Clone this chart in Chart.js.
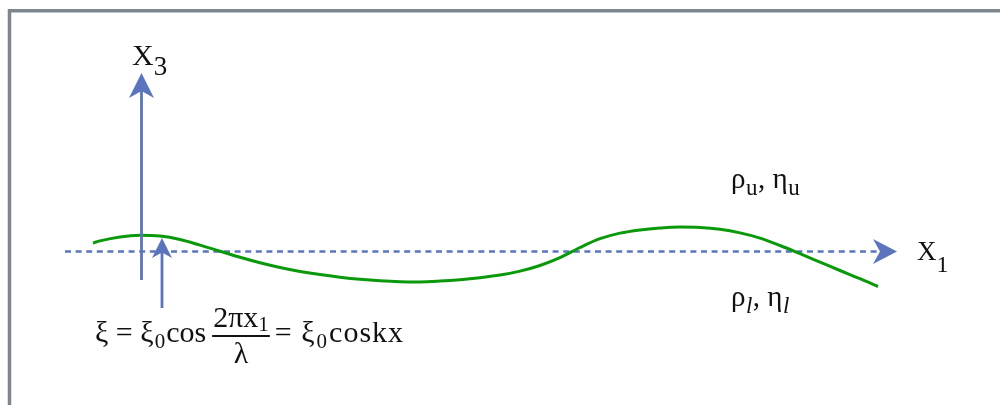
<!DOCTYPE html>
<html>
<head>
<meta charset="utf-8">
<script src="https://cdn.jsdelivr.net/npm/chart.js@4.4.1/dist/chart.umd.min.js"></script>
<style>
  html, body { margin: 0; padding: 0; background: #ffffff; overflow: hidden; }
  #wrap { position: relative; width: 1000px; height: 405px; }
</style>
</head>
<body>
<div id="wrap"><canvas id="sketch" width="1000" height="405"></canvas></div>
<script>
// Interface profile: position along x1 and vertical displacement ξ of the interface.
const x1Positions = [93, 100, 120, 140, 160, 180, 200, 220, 240, 260, 280, 300, 320, 340, 360, 380,
                     400, 420, 440, 460, 480, 500, 520, 540, 560, 580, 600, 620, 640, 660, 680, 700,
                     720, 740, 760, 780, 800, 820, 840, 860, 878];
const xiValues = [8.5, 10.6, 14.6, 16.2, 15.4, 12.0, 6.4, 0.3, -5.8, -11.3, -16.0, -19.9, -23.1, -25.7, -27.8, -29.3,
                  -30.2, -30.4, -29.6, -28.2, -26.2, -23.6, -19.6, -14.0, -6.2, 4.0, 12.8, 18.4, 21.6, 23.5, 24.5, 24.1,
                  22.2, 18.6, 13.4, 6.0, -2.2, -10.6, -19.0, -27.2, -35.0];

// Coordinate axes and the amplitude marker, in the same x1 / ξ units.
const x1AxisSpan = [65, 897];          // horizontal axis at ξ = 0
const x3AxisX1 = 141.5;
const x3AxisSpan = [-28.5, 178.5];     // vertical axis
const amplitudeX1 = 162;
const amplitudeSpan = [-56.5, 13.5];   // arrow up to the crest

// Text runs: [text, role]; role 'm' = main, 's' = subscript, 'si' = italic subscript.
const labelX3 = [['X', 'm'], ['3', 's']];
const labelX1 = [['X', 'm'], ['1', 's']];
const labelUpper = [['ρ', 'm'], ['u', 's'], [', η', 'm'], ['u', 's']];
const labelLower = [['ρ', 'm'], ['l', 'si'], [', η', 'm'], ['l', 'si']];
const eqLead = [['ξ = ξ', 'm'], ['0', 's'], ['cos', 'm']];
const eqNumerator = [['2πx', 'm'], ['1', 's']];
const eqDenominator = [['λ', 'm']];
const eqTail = [['= ξ', 'm'], ['0', 's'], ['coskx', 'm']];

const AXIS_BLUE = 'rgb(90,117,189)';
const CURVE_GREEN = 'rgb(10,153,10)';
const FRAME_GREY = 'rgb(126,134,143)';
const SERIF = '"Liberation Serif", "DejaVu Serif", serif';

function fontFor(role, st) {
  const size = role === 'm' ? st.size : st.sub;
  return (role === 'si' ? 'italic ' : '') + size + 'px ' + SERIF;
}

function runsWidth(ctx, runs, st) {
  let w = 0;
  runs.forEach(([t, role]) => { ctx.font = fontFor(role, st); w += ctx.measureText(t).width; });
  return w;
}

function drawRuns(ctx, runs, x, y, st) {
  runs.forEach(([t, role]) => {
    ctx.font = fontFor(role, st);
    ctx.fillText(t, x, role === 'm' ? y : y + st.drop);
    x += ctx.measureText(t).width + (st.gap || 0);
  });
  return x;
}

function arrowHead(ctx, tipX, tipY, dirX, dirY, len, half, notch) {
  const nx = -dirY, ny = dirX;
  const bx = tipX - dirX * len, by = tipY - dirY * len;
  ctx.beginPath();
  ctx.moveTo(tipX, tipY);
  ctx.lineTo(bx + nx * half, by + ny * half);
  ctx.lineTo(tipX - dirX * (len - notch), tipY - dirY * (len - notch));
  ctx.lineTo(bx - nx * half, by - ny * half);
  ctx.closePath();
  ctx.fill();
}

const sketchOverlay = {
  id: 'sketchOverlay',
  beforeDatasetsDraw(chart) {
    const { ctx, scales: { x, y } } = chart;
    ctx.save();
    // frame
    ctx.strokeStyle = FRAME_GREY;
    ctx.lineWidth = 3.5;
    ctx.beginPath();
    ctx.moveTo(chart.width + 5, 10.8);
    ctx.lineTo(9.5, 10.8);
    ctx.lineTo(9.5, chart.height + 5);
    ctx.stroke();

    // dashed x1 axis
    const y0 = y.getPixelForValue(0);
    const xa = x.getPixelForValue(x1AxisSpan[0]);
    const xb = x.getPixelForValue(x1AxisSpan[1]);
    ctx.strokeStyle = AXIS_BLUE;
    ctx.fillStyle = AXIS_BLUE;
    ctx.lineWidth = 2.6;
    ctx.setLineDash([6, 4.6]);
    ctx.beginPath();
    ctx.moveTo(xa, y0);
    ctx.lineTo(xb - 20, y0);
    ctx.stroke();
    ctx.setLineDash([]);
    arrowHead(ctx, xb, y0, 1, 0, 24, 12.5, 7);
    ctx.restore();
  },
  afterDatasetsDraw(chart) {
    const { ctx, scales: { x, y } } = chart;
    ctx.save();
    ctx.strokeStyle = AXIS_BLUE;
    ctx.fillStyle = AXIS_BLUE;
    ctx.lineWidth = 2.8;

    // x3 axis
    const ax = x.getPixelForValue(x3AxisX1);
    const aBot = y.getPixelForValue(x3AxisSpan[0]);
    const aTop = y.getPixelForValue(x3AxisSpan[1]);
    ctx.beginPath();
    ctx.moveTo(ax, aBot);
    ctx.lineTo(ax, aTop + 18);
    ctx.stroke();
    arrowHead(ctx, ax, aTop, 0, -1, 25, 12.5, 7);

    // amplitude arrow
    const mx = x.getPixelForValue(amplitudeX1);
    const mBot = y.getPixelForValue(amplitudeSpan[0]);
    const mTop = y.getPixelForValue(amplitudeSpan[1]);
    ctx.beginPath();
    ctx.moveTo(mx, mBot);
    ctx.lineTo(mx, mTop + 14);
    ctx.stroke();
    arrowHead(ctx, mx, mTop, 0, -1, 20, 10, 5.5);

    // labels
    ctx.fillStyle = '#111111';
    ctx.textBaseline = 'alphabetic';
    ctx.textAlign = 'left';
    const px = v => x.getPixelForValue(v);
    const py = v => y.getPixelForValue(v);

    drawRuns(ctx, labelX3, px(132), py(186.5), { size: 30, sub: 27, drop: 10 });
    drawRuns(ctx, labelX1, px(917), py(-8.5), { size: 27, sub: 24, drop: 12 });
    const rhoStyle = { size: 29, sub: 23, drop: 7, gap: 0.5 };
    drawRuns(ctx, labelUpper, px(731), py(63.5), rhoStyle);
    drawRuns(ctx, labelLower, px(731), py(-54.5), rhoStyle);

    // ξ = ξ0 cos (2πx1 / λ) = ξ0 coskx
    const eq = { size: 30, sub: 21, drop: 6, gap: 1 };
    const base = py(-90.5);
    let cx = drawRuns(ctx, eqLead, px(95), base, eq);
    cx += 5;
    const numW = runsWidth(ctx, eqNumerator, eq);
    const denW = runsWidth(ctx, eqDenominator, eq);
    const barW = Math.max(numW, denW) + 2;
    drawRuns(ctx, eqNumerator, cx + (barW - numW) / 2, base - 15, { size: 30, sub: 21, drop: 4 });
    ctx.fillRect(cx, base - 7, barW, 2);
    drawRuns(ctx, eqDenominator, cx + (barW - denW) / 2, base + 21, eq);
    cx += barW + 5;
    ctx.save();
    ctx.letterSpacing = '1px';
    drawRuns(ctx, eqTail, cx, base, eq);
    ctx.restore();
    ctx.restore();
  }
};

new Chart(document.getElementById('sketch'), {
  type: 'line',
  data: {
    datasets: [{
      data: x1Positions.map((v, i) => ({ x: v, y: xiValues[i] })),
      borderColor: CURVE_GREEN,
      borderWidth: 3,
      pointRadius: 0,
      fill: false,
      cubicInterpolationMode: 'monotone'
    }]
  },
  options: {
    responsive: false,
    animation: false,
    devicePixelRatio: 1,
    layout: { padding: 0 },
    plugins: { legend: { display: false }, tooltip: { enabled: false } },
    scales: {
      x: { type: 'linear', min: 0, max: 1000, display: false },
      y: { type: 'linear', min: -153.5, max: 251.5, display: false }
    }
  },
  plugins: [sketchOverlay]
});
</script>
</body>
</html>
